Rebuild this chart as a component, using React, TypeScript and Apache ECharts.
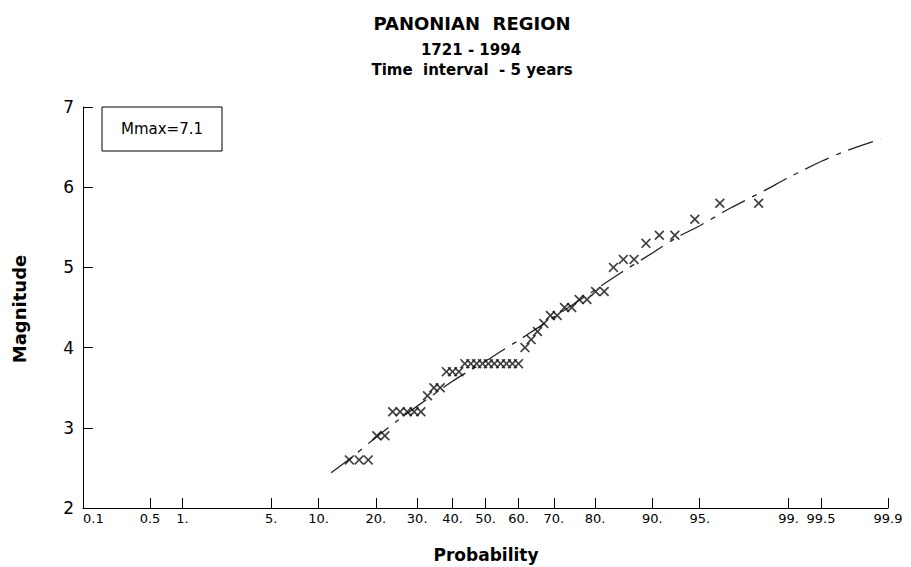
import React, { useEffect, useRef } from "react";
import * as echarts from "echarts";

// Probability-paper ticks (percent) and their printed labels
const probTicks = [0.1, 0.5, 1, 5, 10, 20, 30, 40, 50, 60, 70, 80, 90, 95, 99, 99.5, 99.9];
const probTickLabels = ["0.1", "0.5", "1.", "5.", "10.", "20.", "30.", "40.", "50.", "60.", "70.", "80.", "90.", "95.", "99.", "99.5", "99.9"];

// Observed maximum magnitudes per 5-year interval (plotting position, percent)
const obsProb = [
  14.8, 16.6, 18.4, 20.2, 22.0, 23.8, 25.6, 27.4, 29.2, 31.0, 32.8, 34.6, 36.4, 38.2, 40.0, 41.9,
  43.7, 45.5, 47.3, 49.1, 50.9, 52.7, 54.6, 56.4, 58.2, 60.0, 61.9, 63.7, 65.5, 67.3, 69.1, 70.9,
  72.8, 74.6, 76.4, 78.2, 80.1, 81.9, 83.7, 85.5, 87.3, 89.1, 90.9, 92.7, 94.6, 96.4, 98.2,
];
const obsMag = [
  2.6, 2.6, 2.6, 2.9, 2.9, 3.2, 3.2, 3.2, 3.2, 3.2, 3.4, 3.5, 3.5, 3.7, 3.7, 3.7,
  3.8, 3.8, 3.8, 3.8, 3.8, 3.8, 3.8, 3.8, 3.8, 3.8, 4.0, 4.1, 4.2, 4.3, 4.4, 4.4,
  4.5, 4.5, 4.6, 4.6, 4.7, 4.7, 5.0, 5.1, 5.1, 5.3, 5.4, 5.4, 5.6, 5.8, 5.8,
];

// Fitted distribution curve
const fitProb = [11.8, 15, 20, 25, 30, 35, 40, 45, 50, 55, 60, 65, 70, 75, 80, 85, 90, 93, 95, 97, 98.4, 99, 99.5, 99.7, 99.88];
const fitMag = [2.44, 2.62, 2.88, 3.09, 3.27, 3.43, 3.58, 3.71, 3.83, 3.96, 4.09, 4.23, 4.38, 4.54, 4.72, 4.93, 5.18, 5.38, 5.52, 5.74, 5.96, 6.12, 6.32, 6.44, 6.6];

const titleLines = ["PANONIAN  REGION", "1721 - 1994", "Time  interval  - 5 years"];
const mmaxLabel = "Mmax=7.1";

// Inverse standard normal CDF (Acklam), used as the probability-paper scale
function probit(p: number): number {
  const a = [-39.69683028665376, 220.9460984245205, -275.9285104469687, 138.357751867269, -30.66479806614716, 2.506628277459239];
  const b = [-54.47609879822406, 161.5858368580409, -155.6989798598866, 66.80131188771972, -13.28068155288572];
  const c = [-0.007784894002430293, -0.3223964580411365, -2.400758277161838, -2.549732516148054, 4.374664141464968, 2.938163982698783];
  const d = [0.007784695709041462, 0.3224671290700398, 2.445134137142996, 3.754408661907416];
  const plow = 0.02425;
  if (p < plow) {
    const q = Math.sqrt(-2 * Math.log(p));
    return (((((c[0] * q + c[1]) * q + c[2]) * q + c[3]) * q + c[4]) * q + c[5]) / ((((d[0] * q + d[1]) * q + d[2]) * q + d[3]) * q + 1);
  }
  if (p <= 1 - plow) {
    const q = p - 0.5;
    const r = q * q;
    return ((((((a[0] * r + a[1]) * r + a[2]) * r + a[3]) * r + a[4]) * r + a[5]) * q) / (((((b[0] * r + b[1]) * r + b[2]) * r + b[3]) * r + b[4]) * r + 1);
  }
  const q = Math.sqrt(-2 * Math.log(1 - p));
  return -(((((c[0] * q + c[1]) * q + c[2]) * q + c[3]) * q + c[4]) * q + c[5]) / ((((d[0] * q + d[1]) * q + d[2]) * q + d[3]) * q + 1);
}

const toZ = (pct: number) => probit(pct / 100);

const FONT = '"DejaVu Sans", "Liberation Sans", sans-serif';
const CROSS = "path://M0,1.2L1.2,0L5,3.8L8.8,0L10,1.2L6.2,5L10,8.8L8.8,10L5,6.2L1.2,10L0,8.8L3.8,5Z";

const centered = { align: "center", verticalAlign: "middle", textAlign: "center", textVerticalAlign: "middle" };

export default function App() {
  const ref = useRef<HTMLDivElement>(null);

  useEffect(() => {
    if (!ref.current) return;
    const chart = echarts.init(ref.current, undefined, { renderer: "svg" });
    const tickZ = probTicks.map(toZ);
    const labelFor = (v: number) => {
      let best = 0;
      for (let i = 1; i < tickZ.length; i++) {
        if (Math.abs(tickZ[i] - v) < Math.abs(tickZ[best] - v)) best = i;
      }
      return probTickLabels[best];
    };

    chart.setOption({
      animation: false,
      backgroundColor: "#ffffff",
      grid: { left: 83, right: 23, top: 107, bottom: 59, containLabel: false },
      xAxis: {
        type: "value",
        min: toZ(probTicks[0]),
        max: toZ(probTicks[probTicks.length - 1]),
        splitLine: { show: false },
        axisLine: { show: true, onZero: false, lineStyle: { color: "#000", width: 1 } },
        axisTick: { show: true, inside: true, length: 10, customValues: tickZ, lineStyle: { color: "#000", width: 1 } },
        axisLabel: {
          show: true,
          customValues: tickZ,
          formatter: labelFor,
          color: "#000",
          fontFamily: FONT,
          fontSize: 13,
          margin: 4,
          alignMinLabel: "left",
          hideOverlap: false,
        },
      },
      yAxis: {
        type: "value",
        min: 2,
        max: 7,
        interval: 1,
        splitLine: { show: false },
        axisLine: { show: true, onZero: false, lineStyle: { color: "#000", width: 1 } },
        axisTick: { show: true, inside: true, length: 10, lineStyle: { color: "#000", width: 1 } },
        axisLabel: { color: "#000", fontFamily: FONT, fontSize: 17, margin: 9 },
      },
      series: [
        {
          type: "line",
          data: fitProb.map((p, i) => [toZ(p), fitMag[i]]),
          showSymbol: false,
          smooth: 0.3,
          lineStyle: { color: "#222", width: 1.3, type: [26, 8, 5, 8] },
          z: 2,
        },
        {
          type: "scatter",
          data: obsProb.map((p, i) => [toZ(p), obsMag[i]]),
          symbol: CROSS,
          symbolSize: 10,
          itemStyle: { color: "#111" },
          z: 3,
        },
      ],
      graphic: [
        { type: "text", x: 472, y: 23, style: { text: titleLines[0], font: `bold 18px ${FONT}`, fill: "#000", ...centered } },
        { type: "text", x: 471, y: 50, style: { text: titleLines[1], font: `bold 15px ${FONT}`, fill: "#000", ...centered } },
        { type: "text", x: 472, y: 70, style: { text: titleLines[2], font: `bold 15px ${FONT}`, fill: "#000", ...centered } },
        { type: "text", x: 19, y: 309, rotation: Math.PI / 2, style: { text: "Magnitude", font: `bold 18px ${FONT}`, fill: "#000", ...centered } },
        { type: "text", x: 486, y: 555, style: { text: "Probability", font: `bold 17px ${FONT}`, fill: "#000", ...centered } },
        { type: "rect", z: 10, shape: { x: 102, y: 107, width: 120, height: 44 }, style: { fill: "#fff", stroke: "#000", lineWidth: 1 } },
        { type: "text", x: 162, y: 129, z: 11, style: { text: mmaxLabel, font: `15px ${FONT}`, fill: "#000", ...centered } },
      ],
    });

    return () => chart.dispose();
  }, []);

  return <div ref={ref} style={{ position: "fixed", left: 0, top: 0, width: 911, height: 567 }} />;
}
